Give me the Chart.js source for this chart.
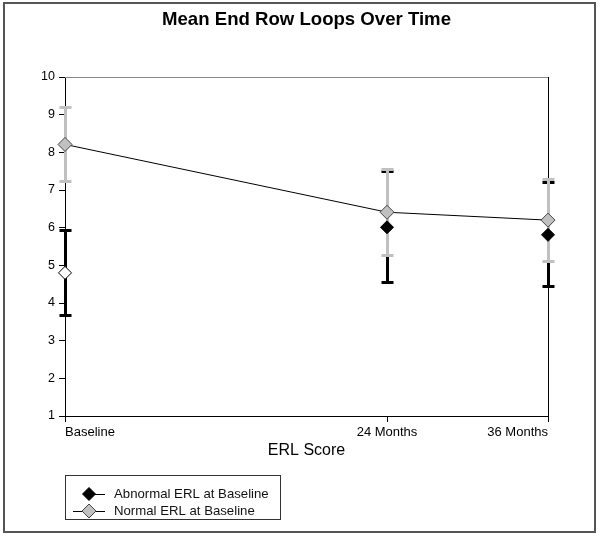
<!DOCTYPE html>
<html>
<head>
<meta charset="utf-8">
<script src="https://cdn.jsdelivr.net/npm/chart.js@4/dist/chart.umd.min.js"></script>
<style>
  html, body { margin: 0; padding: 0; background: #ffffff; }
  #wrap { width: 601px; height: 537px; }
</style>
</head>
<body>
<div id="wrap"><canvas id="c" width="601" height="537"></canvas></div>
<script>
// ---- data ----
const chartTitle = 'Mean End Row Loops Over Time';
const xAxisTitle = 'ERL Score';
const months = [0, 24, 36];
const tickLabels = ['Baseline', '24 Months', '36 Months'];
const seriesNames = ['Abnormal ERL at Baseline', 'Normal ERL at Baseline'];

const abnormalMean  = [4.80, 6.01, 5.81];
const abnormalUpper = [5.92, 7.48, 7.19];
const abnormalLower = [3.68, 4.55, 4.45];

const normalMean  = [8.21, 6.41, 6.20];
const normalUpper = [9.19, 7.54, 7.29];
const normalLower = [7.22, 5.27, 5.10];

const yTicks = [1, 2, 3, 4, 5, 6, 7, 8, 9, 10];

const FONT = '"Liberation Sans", Arial, sans-serif';

const toPoints = (ys) => months.map((m, i) => ({ x: m, y: ys[i] }));

const errorBars = [
  { upper: abnormalUpper, lower: abnormalLower, color: '#000000' },
  { upper: normalUpper, lower: normalLower, color: '#c0c0c0' }
];

const decorPlugin = {
  id: 'decor',
  beforeDraw(chart) {
    const ctx = chart.ctx;
    ctx.save();
    ctx.fillStyle = '#ffffff';
    ctx.fillRect(0, 0, chart.width, chart.height);
    ctx.restore();
  },
  beforeDatasetsDraw(chart) {
    const ctx = chart.ctx;
    const xs = chart.scales.x, ys = chart.scales.y;
    const ca = chart.chartArea;
    ctx.save();
    // top (gray) and right (black) plot borders
    ctx.lineWidth = 1;
    ctx.strokeStyle = '#888888';
    ctx.beginPath();
    ctx.moveTo(ca.left, Math.round(ys.getPixelForValue(10)) + 0.5);
    ctx.lineTo(ca.right, Math.round(ys.getPixelForValue(10)) + 0.5);
    ctx.stroke();
    ctx.strokeStyle = '#000000';
    ctx.beginPath();
    ctx.moveTo(Math.round(ca.right) + 0.5, ca.top);
    ctx.lineTo(Math.round(ca.right) + 0.5, ca.bottom);
    ctx.stroke();
    // error bars
    errorBars.forEach((eb) => {
      ctx.strokeStyle = eb.color;
      months.forEach((m, i) => {
        const px = Math.floor(xs.getPixelForValue(m)) + 0.5;
        const pu = Math.floor(ys.getPixelForValue(eb.upper[i])) + 0.5;
        const pl = Math.floor(ys.getPixelForValue(eb.lower[i])) + 0.5;
        ctx.lineWidth = 3;
        ctx.beginPath();
        ctx.moveTo(px, pu);
        ctx.lineTo(px, pl);
        ctx.stroke();
        ctx.beginPath();
        ctx.moveTo(px - 6, pu); ctx.lineTo(px + 6, pu);
        ctx.moveTo(px - 6, pl); ctx.lineTo(px + 6, pl);
        ctx.stroke();
      });
    });
    ctx.restore();
  },
  afterDraw(chart) {
    const ctx = chart.ctx;
    const ca = chart.chartArea;
    ctx.save();
    // outer frame
    ctx.strokeStyle = '#555555';
    ctx.lineWidth = 2;
    ctx.strokeRect(4, 3, 591, 529);
    // title
    ctx.fillStyle = '#000000';
    ctx.font = 'bold 18.6px ' + FONT;
    ctx.textAlign = 'center';
    ctx.textBaseline = 'middle';
    ctx.fillText(chartTitle, (ca.left + ca.right) / 2, 20);
    // legend box
    ctx.strokeStyle = '#333333';
    ctx.lineWidth = 1;
    ctx.strokeRect(65.5, 475.5, 215, 44);
    const items = chart.data.datasets;
    const rows = [494, 511];
    items.forEach((ds, k) => {
      const y = rows[k];
      ctx.strokeStyle = '#000000';
      ctx.lineWidth = 1;
      ctx.beginPath();
      ctx.moveTo(k === 0 ? 89 : 73, y + 0.5);
      ctx.lineTo(105, y + 0.5);
      ctx.stroke();
      const r = k === 0 ? 6.5 : 7;
      ctx.beginPath();
      ctx.moveTo(89, y - r); ctx.lineTo(89 + r, y); ctx.lineTo(89, y + r); ctx.lineTo(89 - r, y); ctx.closePath();
      ctx.fillStyle = k === 0 ? '#000000' : '#c0c0c0';
      ctx.fill();
      ctx.strokeStyle = k === 0 ? '#000000' : '#444444';
      ctx.stroke();
      ctx.fillStyle = '#111111';
      ctx.font = '13.2px ' + FONT;
      ctx.textAlign = 'left';
      ctx.textBaseline = 'middle';
      ctx.fillText(ds.label, 114, y);
    });
    ctx.restore();
  }
};

new Chart(document.getElementById('c'), {
  type: 'line',
  data: {
    datasets: [
      {
        label: seriesNames[0],
        data: toPoints(abnormalMean),
        showLine: false,
        pointStyle: 'rectRot',
        pointRadius: 6.5,
        pointBackgroundColor: ['#ffffff', '#000000', '#000000'],
        pointBorderColor: '#000000',
        pointBorderWidth: 1,
        clip: false
      },
      {
        label: seriesNames[1],
        data: toPoints(normalMean),
        showLine: true,
        borderColor: '#000000',
        borderWidth: 1,
        tension: 0,
        pointStyle: 'rectRot',
        pointRadius: 7,
        pointBackgroundColor: '#c0c0c0',
        pointBorderColor: '#444444',
        pointBorderWidth: 1,
        clip: false
      }
    ]
  },
  options: {
    responsive: false,
    animation: false,
    events: [],
    layout: { padding: { left: 10, right: 53, top: 77, bottom: 77 } },
    plugins: {
      legend: { display: false },
      title: { display: false },
      tooltip: { enabled: false }
    },
    scales: {
      x: {
        type: 'linear',
        min: 0,
        max: 36,
        afterBuildTicks(scale) { scale.ticks = months.map(v => ({ value: v })); },
        afterFit(scale) { scale.height = 44; },
        ticks: {
          callback(v) { const i = months.indexOf(v); return i >= 0 ? tickLabels[i] : ''; },
          align: 'inner',
          font: { family: FONT, size: 13 },
          color: '#000000',
          padding: 3,
          maxRotation: 0,
          autoSkip: false
        },
        grid: { drawOnChartArea: false, drawTicks: true, tickLength: 6, color: '#000000' },
        border: { color: '#000000', width: 1 },
        title: {
          display: true,
          text: xAxisTitle,
          font: { family: FONT, size: 16 },
          color: '#000000',
          padding: { top: 1, bottom: 0 }
        }
      },
      y: {
        min: 1,
        max: 10,
        afterBuildTicks(scale) { scale.ticks = yTicks.map(v => ({ value: v })); },
        afterFit(scale) { scale.width = 55; },
        ticks: {
          font: { family: FONT, size: 12.5 },
          color: '#000000',
          padding: 4
        },
        grid: { drawOnChartArea: false, drawTicks: true, tickLength: 6, color: '#000000' },
        border: { color: '#000000', width: 1 }
      }
    }
  },
  plugins: [decorPlugin]
});
</script>
</body>
</html>
